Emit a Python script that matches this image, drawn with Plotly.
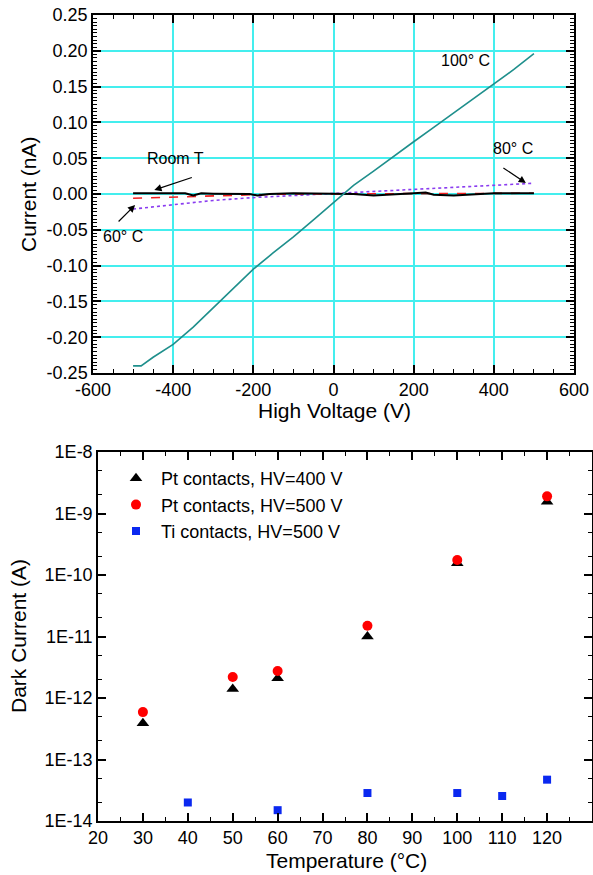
import plotly.graph_objects as go

FONT = "Liberation Sans, Arial, sans-serif"

# ---------------- Top panel data: I-V curves ----------------
v_100 = [-500, -480, -450, -400, -350, -300, -250, -200, -150, -100, -50, 0, 50, 100, 150, 200, 250, 300, 350, 400, 450, 500]
i_100 = [-0.240, -0.240, -0.228, -0.210, -0.186, -0.159, -0.132, -0.105, -0.082, -0.060, -0.036, -0.012, 0.012, 0.032, 0.053, 0.073, 0.093, 0.113, 0.133, 0.153, 0.174, 0.196]

v_room = [-500, -450, -400, -370, -350, -330, -300, -250, -210, -190, -160, -100, -50, 0, 50, 100, 150, 200, 230, 250, 300, 350, 400, 450, 500]
i_room = [0.001, 0.001, 0.0005, 0.001, -0.002, 0.001, 0.0005, 0.0, 0.0, -0.002, 0.0, 0.001, 0.0005, 0.001, 0.0, -0.002, -0.001, 0.001, 0.002, -0.001, -0.002, 0.0, 0.001, 0.001, 0.001]

v_60 = [-500, -450, -400, -300, -200, -100, 0, 100, 200, 300, 400, 500]
i_60 = [-0.006, -0.005, -0.004, -0.003, -0.001, 0.0, 0.0, 0.0, 0.0, 0.0, 0.001, 0.001]

v_80 = [-500, -450, -400, -300, -200, -100, 0, 100, 200, 300, 400, 500]
i_80 = [-0.021, -0.018, -0.015, -0.009, -0.005, -0.002, 0.001, 0.004, 0.007, 0.009, 0.012, 0.015]

x1_ticks = [-600, -400, -200, 0, 200, 400, 600]
x1_text = ["-600", "-400", "-200", "0", "200", "400", "600"]
y1_ticks = [-0.25, -0.20, -0.15, -0.10, -0.05, 0.0, 0.05, 0.10, 0.15, 0.20, 0.25]
y1_text = ["-0.25", "-0.20", "-0.15", "-0.10", "-0.05", "0.00", "0.05", "0.10", "0.15", "0.20", "0.25"]

# ---------------- Bottom panel data: dark current vs T ----------------
t_pt400 = [30, 50, 60, 80, 100, 120]
i_pt400 = [3.9e-13, 1.4e-12, 2.1e-12, 1.0e-11, 1.55e-10, 1.55e-9]
t_pt500 = [30, 50, 60, 80, 100, 120]
i_pt500 = [5.9e-13, 2.2e-12, 2.75e-12, 1.5e-11, 1.75e-10, 1.9e-9]
t_ti500 = [40, 60, 80, 100, 110, 120]
i_ti500 = [2.0e-14, 1.5e-14, 2.85e-14, 2.85e-14, 2.55e-14, 4.7e-14]

x2_ticks = [20, 30, 40, 50, 60, 70, 80, 90, 100, 110, 120, 130]
x2_text = [str(t) for t in x2_ticks]
y2_ticks = [1e-14, 1e-13, 1e-12, 1e-11, 1e-10, 1e-9, 1e-8]
y2_text = ["1E-14", "1E-13", "1E-12", "1E-11", "1E-10", "1E-9", "1E-8"]

W, H = 593, 875

fig = go.Figure()

fig.add_trace(go.Scatter(x=v_80, y=i_80, mode="lines", line=dict(color="#8a3cf0", width=1.6, dash="dot"), showlegend=False, xaxis="x", yaxis="y"))
fig.add_trace(go.Scatter(x=v_60, y=i_60, mode="lines", line=dict(color="#f02020", width=1.6, dash="dash"), showlegend=False, xaxis="x", yaxis="y"))
fig.add_trace(go.Scatter(x=v_room, y=i_room, mode="lines", line=dict(color="#000000", width=2), showlegend=False, xaxis="x", yaxis="y"))
fig.add_trace(go.Scatter(x=v_100, y=i_100, mode="lines", line=dict(color="#1f8f8c", width=1.6), showlegend=False, xaxis="x", yaxis="y"))

fig.add_trace(go.Scatter(x=t_pt400, y=i_pt400, mode="markers", name="Pt contacts, HV=400 V",
                         marker=dict(symbol="triangle-up", color="#000000", size=11), xaxis="x2", yaxis="y2"))
fig.add_trace(go.Scatter(x=t_pt500, y=i_pt500, mode="markers", name="Pt contacts, HV=500 V",
                         marker=dict(symbol="circle", color="#ff0000", size=10), xaxis="x2", yaxis="y2"))
fig.add_trace(go.Scatter(x=t_ti500, y=i_ti500, mode="markers", name="Ti contacts, HV=500 V",
                         marker=dict(symbol="square", color="#0a28f0", size=8), xaxis="x2", yaxis="y2"))

axis_common = dict(showline=True, linecolor="black", linewidth=1.5, mirror="ticks",
                   ticks="inside", ticklen=8, tickwidth=1.5, tickcolor="#000000", showticklabels=True,
                   tickfont=dict(family=FONT, size=18, color="black"), zeroline=False, automargin=False,
                   layer="above traces")
minor_common = dict(ticks="inside", ticklen=4, tickwidth=1.2, tickcolor="#000000", showgrid=False)
GRID = "#44eeee"

fig.update_layout(
    width=W, height=H, margin=dict(l=0, r=0, t=0, b=0),
    paper_bgcolor="white", plot_bgcolor="white",
    font=dict(family=FONT, color="black"),
    xaxis=dict(domain=[93 / W, 574 / W], range=[-600, 600], tickmode="array", tickvals=x1_ticks, ticktext=x1_text,
               showgrid=True, gridcolor=GRID, gridwidth=1.8, anchor="y",
               minor=dict(dtick=50, tick0=0, **minor_common),
               **axis_common),
    yaxis=dict(domain=[1 - 373 / H, 1 - 15 / H], range=[-0.25, 0.25], tickmode="array", tickvals=y1_ticks, ticktext=y1_text,
               showgrid=True, gridcolor=GRID, gridwidth=1.8, anchor="x",
               minor=dict(dtick=0.005, tick0=0, **minor_common),
               **axis_common),
    xaxis2=dict(domain=[98 / W, 592 / W], range=[20, 130], tickmode="array", tickvals=x2_ticks, ticktext=x2_text,
                showgrid=False, anchor="y2",
                minor=dict(dtick=5, tick0=0, **minor_common),
                **axis_common),
    yaxis2=dict(domain=[1 - 821 / H, 1 - 452 / H], type="log", range=[-14, -8], tickmode="array", tickvals=y2_ticks, ticktext=y2_text,
                showgrid=False, anchor="x2",
                minor=dict(**minor_common),
                **axis_common),
    legend=dict(x=111 / W, y=1 - 460 / H, xanchor="left", yanchor="top", bgcolor="rgba(0,0,0,0)",
                font=dict(family=FONT, size=18, color="black"), tracegroupgap=0, itemsizing="trace",
                itemwidth=40),
)

ann = []
# axis titles
tfont = dict(family=FONT, size=21, color="black")
ann.append(dict(text="Current (nA)", x=28 / W, y=1 - 194 / H, xref="paper", yref="paper", showarrow=False,
                textangle=-90, font=tfont, xanchor="center", yanchor="middle"))
ann.append(dict(text="High Voltage (V)", x=334 / W, y=1 - 410 / H, xref="paper", yref="paper", showarrow=False,
                font=tfont, xanchor="center", yanchor="middle"))
ann.append(dict(text="Dark Current (A)", x=18 / W, y=1 - 636 / H, xref="paper", yref="paper", showarrow=False,
                textangle=-90, font=tfont, xanchor="center", yanchor="middle"))
ann.append(dict(text="Temperature (°C)", x=347 / W, y=1 - 860 / H, xref="paper", yref="paper", showarrow=False,
                font=tfont, xanchor="center", yanchor="middle"))

# curve labels
lab_font = dict(family=FONT, size=16, color="black")
ann.append(dict(text="Room T", x=-395, y=0.049, xref="x", yref="y", showarrow=False, font=lab_font))
ann.append(dict(text="60° C", x=-525, y=-0.060, xref="x", yref="y", showarrow=False, font=lab_font))
ann.append(dict(text="100° C", x=330, y=0.187, xref="x", yref="y", showarrow=False, font=lab_font))
ann.append(dict(text="80° C", x=447, y=0.064, xref="x", yref="y", showarrow=False, font=lab_font))

# arrows
arr = dict(xref="x", yref="y", text="", showarrow=True, arrowhead=2, arrowsize=1.2, arrowwidth=1.2, arrowcolor="black")
ann.append(dict(x=-447, y=0.0056, ax=39, ay=-13, **arr))
ann.append(dict(x=-495, y=-0.0154, ax=-18, ay=18, **arr))
ann.append(dict(x=480, y=0.0154, ax=-24, ay=-16, **arr))

fig.update_layout(annotations=ann)

fig.write_html("out.html")
